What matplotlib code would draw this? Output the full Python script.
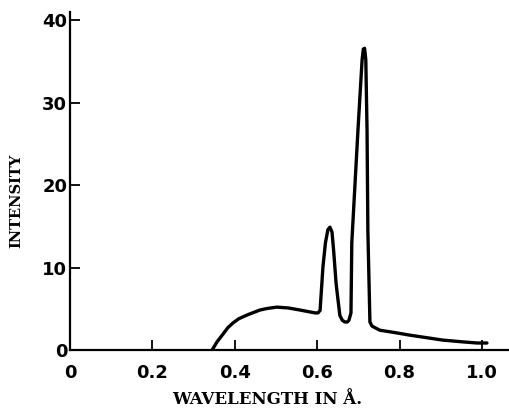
import numpy as np
import matplotlib.pyplot as plt

# continuous spectrum with K-beta and K-alpha lines
wavelength = [0.345, 0.357, 0.371, 0.383, 0.396, 0.41, 0.43, 0.461, 0.48, 0.502,
              0.53, 0.558, 0.595, 0.602, 0.607, 0.614, 0.62, 0.626, 0.631,
              0.636, 0.64, 0.646, 0.655, 0.661, 0.667, 0.673, 0.677, 0.682,
              0.684, 0.689, 0.699, 0.709, 0.712, 0.715, 0.718, 0.721, 0.723,
              0.728, 0.733, 0.752, 0.79, 0.825, 0.865, 0.905, 0.95, 0.988, 1.012]
intensity = [0.0, 1.0, 1.9, 2.7, 3.3, 3.8, 4.25, 4.85, 5.05, 5.2,
             5.1, 4.85, 4.5, 4.5, 4.8, 10.1, 13.0, 14.6, 14.9,
             14.3, 12.0, 8.0, 4.2, 3.6, 3.4, 3.4, 3.6, 4.5,
             13.0, 17.6, 26.7, 35.2, 36.5, 36.6, 35.2, 26.7, 14.5,
             3.4, 2.9, 2.4, 2.1, 1.8, 1.5, 1.2, 1.0, 0.85, 0.85]

x_ticks = [0, 0.2, 0.4, 0.6, 0.8, 1.0]
x_ticklabels = ["0", "0.2", "0.4", "0.6", "0.8", "1.0"]
y_ticks = [0, 10, 20, 30, 40]

fig = plt.figure(figsize=(5.1, 4.08), dpi=100)
ax = fig.add_axes([70 / 510, 58 / 408, 440 / 510, 338 / 408])

ax.plot(wavelength, intensity, color="black", lw=2.4,
        solid_joinstyle="round", solid_capstyle="round")

ax.set_xlim(0, 1.068)
ax.set_ylim(0, 41)
for s in ["top", "right"]:
    ax.spines[s].set_visible(False)
for s in ["left", "bottom"]:
    ax.spines[s].set_linewidth(1.6)

ax.set_xticks(x_ticks)
ax.set_xticklabels(x_ticklabels)
ax.set_yticks(y_ticks)
ax.tick_params(direction="in", length=7, width=1.3, labelsize=13)
ax.tick_params(axis="x", pad=10)
ax.tick_params(axis="y", pad=2)
for lab in ax.get_xticklabels() + ax.get_yticklabels():
    lab.set_fontweight("bold")

ax.set_xlabel("WAVELENGTH IN Å.", family="DejaVu Serif", fontweight="bold",
              fontsize=12)
ax.xaxis.set_label_coords(0.448, -0.122)
ax.set_ylabel("INTENSITY", family="DejaVu Serif", fontweight="bold",
              fontsize=10.5)
ax.yaxis.set_label_coords(-0.107, 0.44)

fig.savefig("out.png", dpi=100)
